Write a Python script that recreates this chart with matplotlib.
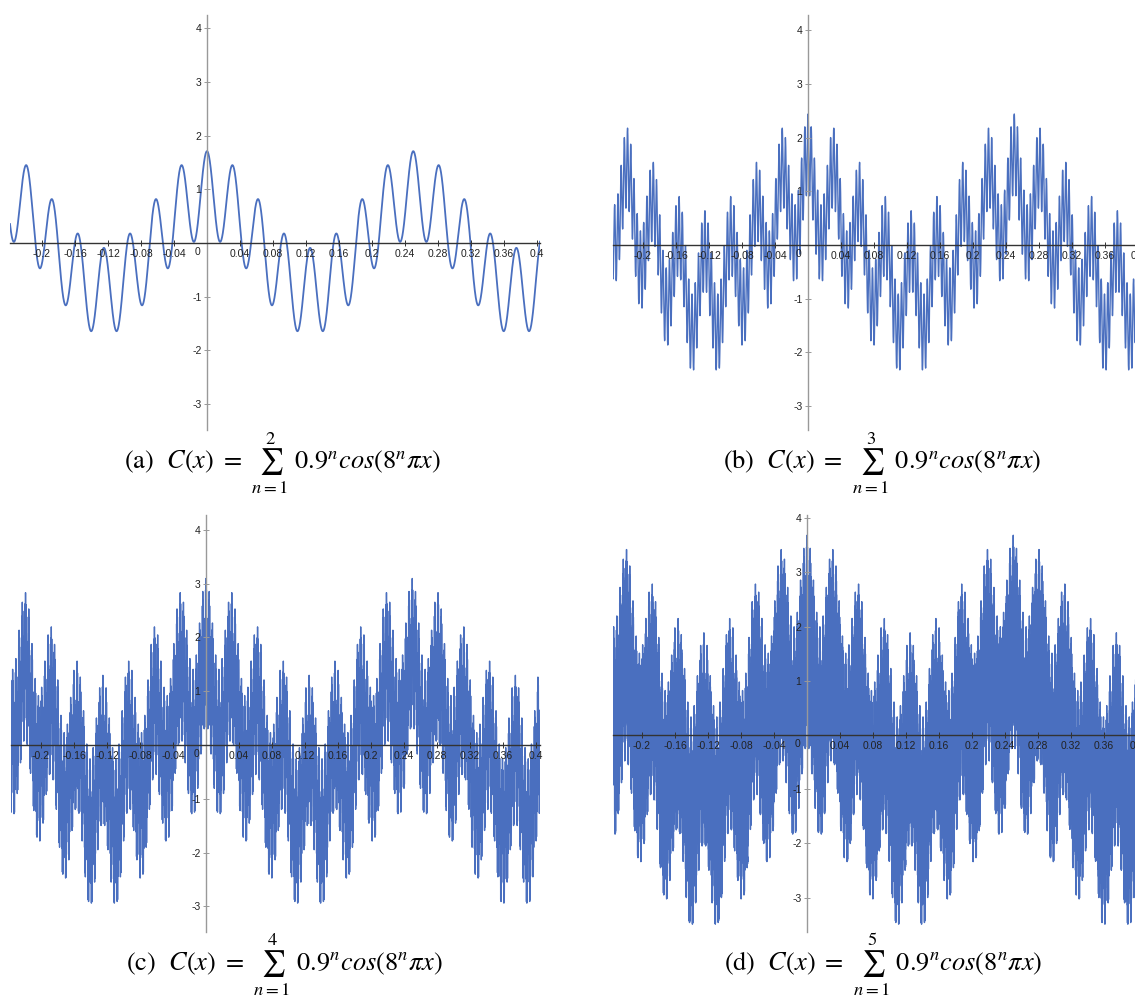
import numpy as np
import matplotlib
matplotlib.use("Agg")
import matplotlib.pyplot as plt
from matplotlib.ticker import FixedLocator

# ---- data (function parameters read from the captions) ----
panel_labels = ["(a)", "(b)", "(c)", "(d)"]
n_terms = [2, 3, 4, 5]          # upper limit of the sum in each panel
amp_ratio = 0.9                 # 0.9^n
freq_base = 8                   # 8^n
x_start, x_stop = -0.245, 0.41  # sampled domain
x_ticks = [-0.2, -0.16, -0.12, -0.08, -0.04, 0.04, 0.08, 0.12, 0.16, 0.2,
           0.24, 0.28, 0.32, 0.36, 0.4]
x_tick_labels = ["-0.2", "-0.16", "-0.12", "-0.08", "-0.04", "0.04", "0.08",
                 "0.12", "0.16", "0.2", "0.24", "0.28", "0.32", "0.36", "0.4"]
y_ticks = [-3, -2, -1, 1, 2, 3, 4]
y_tick_labels = ["-3", "-2", "-1", "1", "2", "3", "4"]

# ---- layout (pixels in 1135x999 figure) ----
W, H = 1135, 999
# left, right, top, bottom, y-axis pixel x, x-axis pixel y, px per x-unit, px per y-unit
panels = [
    (10, 540, 15, 430, 207, 243, 825, 53.7),
    (613, 1145, 15, 430, 808, 245, 825, 53.7),
    (11, 540, 515, 932, 206, 745, 825, 53.8),
    (613, 1145, 515, 932, 807, 735, 825, 54.2),
]
caption_pos = [(282, 463), (882, 463), (284, 965), (883, 965)]

plt.rcParams["axes.unicode_minus"] = False
plt.rcParams["mathtext.fontset"] = "stix"

fig = plt.figure(figsize=(W / 100, H / 100), dpi=100)
line_color = "#4a6fbf"

x = np.linspace(x_start, x_stop, 600001)

for i, (l, r, t, b, ax0, ay0, sx, sy) in enumerate(panels):
    ax = fig.add_axes([l / W, 1 - b / H, (r - l) / W, (b - t) / H])
    ax.set_xlim(-(ax0 - l) / sx, (r - ax0) / sx)
    ax.set_ylim(-(b - ay0) / sy, (ay0 - t) / sy)
    ax.patch.set_alpha(0)

    n_max = n_terms[i]
    y = np.zeros_like(x)
    for n in range(1, n_max + 1):
        y += amp_ratio ** n * np.cos(freq_base ** n * np.pi * x)
    lw = 1.3 if n_max == 2 else 1.0
    ax.plot(x, y, color=line_color, lw=lw, zorder=2)

    for s in ["top", "right"]:
        ax.spines[s].set_visible(False)
    ax.spines["left"].set_position(("data", 0))
    ax.spines["bottom"].set_position(("data", 0))
    ax.spines["left"].set_color("#999999")
    ax.spines["bottom"].set_color("#333333")
    ax.spines["left"].set_linewidth(1.0)
    ax.spines["bottom"].set_linewidth(1.0)
    ax.spines["left"].set_zorder(4)
    ax.spines["bottom"].set_zorder(4)
    ax.xaxis.set_zorder(5)
    ax.yaxis.set_zorder(5)

    ax.xaxis.set_major_locator(FixedLocator(x_ticks))
    ax.set_xticklabels(x_tick_labels)
    ax.yaxis.set_major_locator(FixedLocator(y_ticks))
    ax.set_yticklabels(y_tick_labels)
    ax.tick_params(axis="x", direction="inout", length=4, width=0.7,
                   colors="#333333", labelsize=7.5, pad=2, labelcolor="#222222")
    ax.tick_params(axis="y", direction="inout", length=4, width=0.7,
                   colors="#999999", labelsize=7.5, pad=2, labelcolor="#222222")
    for lab in ax.get_xticklabels() + ax.get_yticklabels():
        lab.set_fontfamily("Liberation Sans")
    ax.annotate("0", xy=(0, 0), xytext=(-7, -3), textcoords="offset points",
                ha="center", va="top", fontsize=7.5, color="#222222",
                family="Liberation Sans", zorder=6)

    cx, cy = caption_pos[i]
    fig.text(cx / W, 1 - cy / H,
             panel_labels[i] + r"  $C(x)\ =\ \sum_{n=1}^{%d}\ 0.9^{n}cos(8^{n}\pi x)$" % n_max,
             ha="center", va="center", fontsize=19, family="STIXGeneral")

fig.savefig("out.png", dpi=100)
